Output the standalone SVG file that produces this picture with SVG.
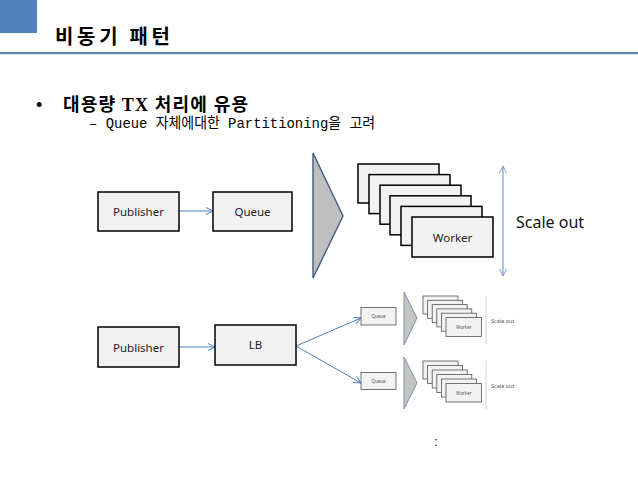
<svg xmlns="http://www.w3.org/2000/svg" width="638" height="479" viewBox="0 0 638 479">
<defs>
<style>
.box{fill:#f2f2f2;stroke:#000;stroke-width:1.5}
.sbox{fill:#f2f2f2;stroke:#555;stroke-width:0.8}
.lbl{font-family:"Noto Sans","Liberation Sans",sans-serif;font-size:11.5px;fill:#222;text-anchor:middle}
.slbl{font-family:"Noto Sans","Liberation Sans",sans-serif;font-size:4.5px;fill:#555;text-anchor:middle}
.conn{stroke:#4a7ebb;stroke-width:1;fill:none;marker-end:url(#ah)}
.tri{fill:#bfbfbf;stroke:#4a6384;stroke-width:1.5}
.stri{fill:#c4c4c4;stroke:#7d8fa6;stroke-width:1}
</style>
<marker id="ah" markerWidth="10" markerHeight="10" refX="8" refY="5" orient="auto" markerUnits="userSpaceOnUse">
<path d="M1,1.5 L8,5 L1,8.5" fill="none" stroke="#4a7ebb" stroke-width="1"/>
</marker>
<marker id="ah2" markerWidth="10" markerHeight="10" refX="8" refY="5" orient="auto-start-reverse" markerUnits="userSpaceOnUse">
<path d="M1,1.5 L8,5 L1,8.5" fill="none" stroke="#7a9cc6" stroke-width="1"/>
</marker>
</defs>
<rect width="638" height="479" fill="#fff"/>
<g id="header">
<rect x="0" y="0" width="37" height="33" fill="#4f81bd"/>
<text x="55" y="44" font-family="'Noto Sans CJK KR',sans-serif" font-weight="bold" font-size="20" textLength="115" fill="#000">비동기 패턴</text>
<rect x="0" y="52" width="638" height="2.2" fill="#5b84b3"/>
</g>
<g id="bullets">
<text x="36" y="111" font-family="'Liberation Sans',sans-serif" font-size="18" fill="#000">•</text>
<text x="63" y="111" font-family="'Liberation Serif','Noto Sans CJK KR',serif" font-weight="bold" font-size="18" textLength="185" fill="#000">대용량 TX 처리에 유용</text>
<text x="89" y="128" font-family="'Liberation Mono','Noto Sans CJK KR',monospace" font-size="15" textLength="286" lengthAdjust="spacingAndGlyphs" fill="#000">– Queue 자체에대한 Partitioning을 고려</text>
</g>
<g id="connectors">
<line class="conn" x1="179" y1="211" x2="213" y2="211"/>
<line class="conn" x1="179" y1="347" x2="215" y2="347"/>
<line class="conn" x1="296" y1="346" x2="361" y2="318"/>
<line class="conn" x1="296" y1="346" x2="361" y2="383"/>
<line x1="503" y1="166" x2="503" y2="276" stroke="#7a9cc6" stroke-width="1.2" marker-start="url(#ah2)" marker-end="url(#ah2)"/>
</g>
<g id="publisher1">
<rect class="box" x="98" y="192" width="81" height="39"/>
<text class="lbl" x="138.5" y="215.5">Publisher</text>
</g>
<g id="queue1">
<rect class="box" x="213" y="192" width="79" height="39"/>
<text class="lbl" x="252.5" y="215.5">Queue</text>
</g>
<g id="dispatch1">
<polygon class="tri" points="313,153 343,216 313,278"/>
</g>
<g id="workers1">
<rect class="box" x="358" y="164" width="81" height="39"/>
<rect class="box" x="369" y="174.6" width="81" height="39"/>
<rect class="box" x="380" y="185.2" width="81" height="39"/>
<rect class="box" x="390" y="195.8" width="81" height="39"/>
<rect class="box" x="401" y="206.4" width="81" height="39"/>
<rect class="box" x="412" y="217" width="81" height="40"/>
<text class="lbl" x="452.5" y="241.5">Worker</text>
</g>
<g id="scaleout1">
<text x="516" y="228" font-family="'Noto Sans','Liberation Sans',sans-serif" font-size="16" fill="#111">Scale out</text>
</g>
<g id="publisher2">
<rect class="box" x="98" y="327" width="81" height="40"/>
<text class="lbl" x="138.5" y="351.5">Publisher</text>
</g>
<g id="lb">
<rect class="box" x="215" y="325" width="81" height="40"/>
<text class="lbl" x="255.5" y="349">LB</text>
</g>
<g id="partition1">
<rect class="sbox" x="361" y="307.5" width="35" height="17.5"/>
<text class="slbl" x="378.5" y="318">Queue</text>
<polygon class="stri" points="404,292 417,318 404,345"/>
<rect class="sbox" x="423" y="296" width="35" height="18"/>
<rect class="sbox" x="427.6" y="300.3" width="35" height="18"/>
<rect class="sbox" x="432.2" y="304.6" width="35" height="18"/>
<rect class="sbox" x="436.8" y="308.9" width="35" height="18"/>
<rect class="sbox" x="441.4" y="313.2" width="35" height="18"/>
<rect class="sbox" x="446" y="317.5" width="35.5" height="19"/>
<text class="slbl" x="463.8" y="328.5">Worker</text>
<line x1="486" y1="296" x2="486" y2="344" stroke="#c8c8c8" stroke-width="0.8"/>
<text x="491" y="323" font-family="'Noto Sans','Liberation Sans',sans-serif" font-size="5.5" fill="#555">Scale out</text>
</g>
<g id="partition2">
<rect class="sbox" x="361" y="372.5" width="35" height="17"/>
<text class="slbl" x="378.5" y="382.5">Queue</text>
<polygon class="stri" points="404,357 417,383 404,409"/>
<rect class="sbox" x="423" y="361" width="35" height="18"/>
<rect class="sbox" x="427.6" y="365.5" width="35" height="18"/>
<rect class="sbox" x="432.2" y="370" width="35" height="18"/>
<rect class="sbox" x="436.8" y="374.5" width="35" height="18"/>
<rect class="sbox" x="441.4" y="379" width="35" height="18"/>
<rect class="sbox" x="446" y="383.5" width="35.5" height="18.5"/>
<text class="slbl" x="463.8" y="394.5">Worker</text>
<line x1="486" y1="361" x2="486" y2="409" stroke="#c8c8c8" stroke-width="0.8"/>
<text x="491" y="388" font-family="'Noto Sans','Liberation Sans',sans-serif" font-size="5.5" fill="#555">Scale out</text>
</g>
<g id="dots">
<text x="434" y="446" font-family="'Liberation Sans',sans-serif" font-size="13" fill="#000">:</text>
</g>
</svg>
